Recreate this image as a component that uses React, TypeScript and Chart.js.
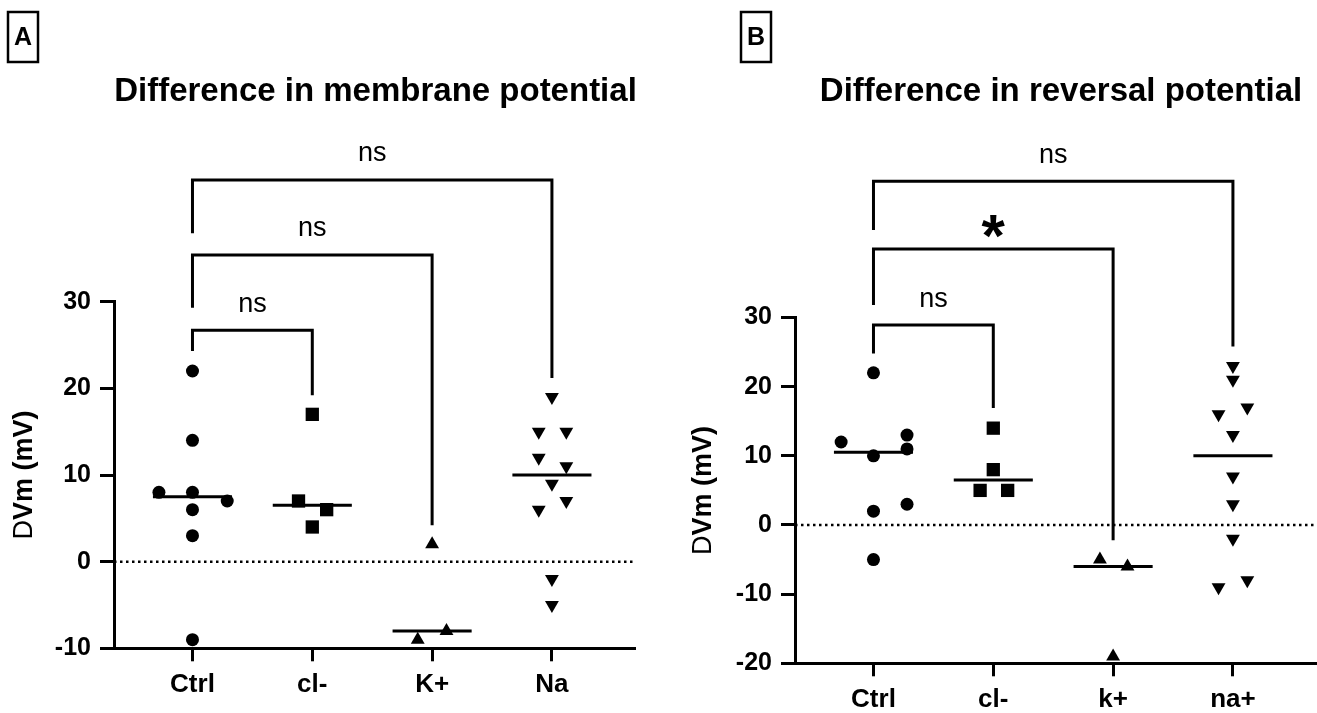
import React, { useEffect, useRef } from "react";
import { Chart, registerables } from "chart.js";

Chart.register(...registerables);

const FONT = '"Liberation Sans", Arial, Helvetica, sans-serif';

// ---------- Panel A data ----------
const titleA = "Difference in membrane potential";
const letterA = "A";
const catsA = ["Ctrl", "cl-", "K+", "Na"];
const ctrlA = [22, 14, 8, 8, 7, 6, 3, -9];
const ctrlAJitter = [0, 0, -0.28, 0, 0.29, 0, 0, 0];
const clA = [17, 7, 6, 4];
const clAJitter = [0, -0.115, 0.12, 0];
const kA = [2, -9, -8];
const kAJitter = [0, -0.12, 0.12];
const naA = [19, 15, 15, 12, 11, 9, 7, 6, -2, -5];
const naAJitter = [0, -0.11, 0.12, -0.11, 0.12, 0, 0.12, -0.11, 0, 0];
const yTicksA = { min: -10, max: 30, step: 10 };
// [from, to, bar level, from-leg end, to-leg end, label]
const bracketsA: [number, number, number, number, number, string][] = [
  [0, 1, 26.7, 24.3, 19.2, "ns"],
  [0, 2, 35.4, 29.3, 4.2, "ns"],
  [0, 3, 44.05, 37.9, 21.2, "ns"],
];

// ---------- Panel B data ----------
const titleB = "Difference in reversal potential";
const letterB = "B";
const catsB = ["Ctrl", "cl-", "k+", "na+"];
const ctrlB = [22, 12, 13, 10, 11, 2, 3, -5];
const ctrlBJitter = [0, -0.27, 0.28, 0, 0.28, 0, 0.28, 0];
const clB = [14, 8, 5, 5];
const clBJitter = [0, 0, -0.11, 0.12];
const kB = [-5, -6, -19];
const kBJitter = [-0.11, 0.12, 0];
const naB = [23, 21, 16, 17, 13, 7, 3, -2, -9, -8];
const naBJitter = [0, 0, -0.12, 0.12, 0, 0, 0, 0, -0.12, 0.12];
const yTicksB = { min: -20, max: 30, step: 10 };
const bracketsB: [number, number, number, number, number, string][] = [
  [0, 1, 28.9, 24.8, 16.9, "ns"],
  [0, 2, 39.9, 31.8, -2.2, "*"],
  [0, 3, 49.7, 42.65, 25.8, "ns"],
];

const yTitlePrefix = "D";
const yTitleRest = "Vm (mV)";
const X_MIN = -0.655;
const X_MAX = 3.685;
const MEDIAN_HALF = 0.33;

type Group = { values: number[]; jitter: number[]; style: string; radius: number; rotation: number };

type PanelCfg = {
  left: number;
  width: number;
  title: string;
  titleCx: number;
  letter: string;
  box: [number, number, number, number];
  cats: string[];
  groups: Group[];
  yTicks: { min: number; max: number; step: number };
  brackets: [number, number, number, number, number, string][];
  padTop: number;
  padRight: number;
  yAxisWidth: number;
  xAxisHeight: number;
  yTitleX: number;
};

function median(arr: number[]) {
  const s = [...arr].sort((a, b) => a - b);
  const n = s.length;
  return n % 2 ? s[(n - 1) / 2] : (s[n / 2 - 1] + s[n / 2]) / 2;
}

function buildConfig(cfg: PanelCfg): any {
  const datasets: any[] = [];
  // zero reference line
  datasets.push({
    data: [
      { x: X_MIN, y: 0 },
      { x: X_MAX, y: 0 },
    ],
    showLine: true,
    borderColor: "#000",
    borderWidth: 2.5,
    borderDash: [2.5, 3.5],
    pointRadius: 0,
    clip: false,
  });
  // brackets
  cfg.brackets.forEach(([a, b, top, la, lb]) => {
    datasets.push({
      data: [
        { x: a, y: la },
        { x: a, y: top },
        { x: b, y: top },
        { x: b, y: lb },
      ],
      showLine: true,
      borderColor: "#000",
      borderWidth: 3,
      borderJoinStyle: "miter",
      borderCapStyle: "butt",
      pointRadius: 0,
      clip: false,
    });
  });
  // medians
  cfg.groups.forEach((g, i) => {
    const m = median(g.values);
    datasets.push({
      data: [
        { x: i - MEDIAN_HALF, y: m },
        { x: i + MEDIAN_HALF, y: m },
      ],
      showLine: true,
      borderColor: "#000",
      borderWidth: 3,
      pointRadius: 0,
      clip: false,
    });
  });
  // points
  cfg.groups.forEach((g, i) => {
    datasets.push({
      data: g.values.map((v, k) => ({ x: i + g.jitter[k], y: v })),
      showLine: false,
      pointStyle: g.style,
      pointRadius: g.radius,
      pointRotation: g.rotation,
      pointBackgroundColor: "#000",
      pointBorderColor: "#000",
      pointBorderWidth: 0,
      clip: false,
    });
  });

  const overlay = {
    id: "overlay",
    afterDraw(chart: any) {
      const { ctx, chartArea } = chart;
      const xs = chart.scales.x;
      const ys = chart.scales.y;
      ctx.save();
      ctx.fillStyle = "#000";
      ctx.strokeStyle = "#000";
      // panel letter box
      const [bx, by, bw, bh] = cfg.box;
      ctx.lineWidth = 2.5;
      ctx.strokeRect(bx, by, bw, bh);
      ctx.font = `bold 25px ${FONT}`;
      ctx.textAlign = "center";
      ctx.textBaseline = "middle";
      ctx.fillText(cfg.letter, bx + bw / 2, by + bh / 2 + 1);
      // title
      ctx.font = `bold 33px ${FONT}`;
      ctx.textBaseline = "alphabetic";
      ctx.fillText(cfg.title, cfg.titleCx, 101);
      // y axis title (mixed weight)
      const cy = (chartArea.top + chartArea.bottom) / 2;
      ctx.translate(cfg.yTitleX, cy);
      ctx.rotate(-Math.PI / 2);
      const f1 = `27px ${FONT}`;
      const f2 = `bold 27px ${FONT}`;
      ctx.font = f1;
      const w1 = ctx.measureText(yTitlePrefix).width;
      ctx.font = f2;
      const w2 = ctx.measureText(yTitleRest).width;
      const sx = -(w1 + w2) / 2;
      ctx.textAlign = "left";
      ctx.textBaseline = "middle";
      ctx.font = f1;
      ctx.fillText(yTitlePrefix, sx, 0);
      ctx.font = f2;
      ctx.fillText(yTitleRest, sx + w1, 0);
      ctx.setTransform(1, 0, 0, 1, 0, 0);
      // bracket labels
      cfg.brackets.forEach(([a, b, top, , , label]) => {
        const px = (xs.getPixelForValue(a) + xs.getPixelForValue(b)) / 2;
        const py = ys.getPixelForValue(top);
        ctx.textAlign = "center";
        if (label === "*") {
          ctx.font = `bold 60px ${FONT}`;
          const m = ctx.measureText(label);
          const cyl = py - 22.5;
          const base = cyl + (m.actualBoundingBoxAscent - m.actualBoundingBoxDescent) / 2;
          ctx.textBaseline = "alphabetic";
          ctx.fillText(label, px, base);
        } else {
          ctx.font = `27px ${FONT}`;
          ctx.textBaseline = "alphabetic";
          ctx.fillText(label, px, py - 18.5);
        }
      });
      ctx.restore();
    },
  };

  return {
    type: "scatter",
    data: { datasets },
    plugins: [overlay],
    options: {
      animation: false,
      responsive: false,
      maintainAspectRatio: false,
      devicePixelRatio: 1,
      events: [],
      layout: {
        autoPadding: false,
        padding: { top: cfg.padTop, right: cfg.padRight, left: 0, bottom: 0 },
      },
      plugins: { legend: { display: false }, tooltip: { enabled: false }, title: { display: false } },
      scales: {
        x: {
          type: "linear",
          min: X_MIN,
          max: X_MAX,
          afterBuildTicks: (s: any) => {
            s.ticks = cfg.cats.map((_, i) => ({ value: i }));
          },
          afterFit: (s: any) => {
            s.height = cfg.xAxisHeight;
            s.paddingLeft = 0;
            s.paddingRight = 0;
          },
          ticks: {
            callback: (v: any) => cfg.cats[Math.round(Number(v))] ?? "",
            color: "#000",
            font: { family: FONT, size: 26, weight: "bold" },
            padding: 8,
            maxRotation: 0,
            autoSkip: false,
          },
          grid: { drawOnChartArea: false, drawTicks: true, tickLength: 13, lineWidth: 3, color: "#000" },
          border: { display: true, color: "#000", width: 3 },
        },
        y: {
          type: "linear",
          min: cfg.yTicks.min,
          max: cfg.yTicks.max,
          afterFit: (s: any) => {
            s.width = cfg.yAxisWidth;
            s.paddingTop = 0;
            s.paddingBottom = 0;
          },
          ticks: {
            stepSize: cfg.yTicks.step,
            color: "#000",
            font: { family: FONT, size: 25, weight: "bold" },
            padding: 9,
          },
          grid: { drawOnChartArea: false, drawTicks: true, tickLength: 14, lineWidth: 3, color: "#000" },
          border: { display: true, color: "#000", width: 3 },
        },
      },
    },
  };
}

const panelA: PanelCfg = {
  left: 0,
  width: 660,
  title: titleA,
  titleCx: 375.5,
  letter: letterA,
  box: [8, 12, 30, 50],
  cats: catsA,
  groups: [
    { values: ctrlA, jitter: ctrlAJitter, style: "circle", radius: 6.5, rotation: 0 },
    { values: clA, jitter: clAJitter, style: "rect", radius: 9.4, rotation: 0 },
    { values: kA, jitter: kAJitter, style: "triangle", radius: 8, rotation: 0 },
    { values: naA, jitter: naAJitter, style: "triangle", radius: 8, rotation: 180 },
  ],
  yTicks: yTicksA,
  brackets: bracketsA,
  padTop: 301.7,
  padRight: 26,
  yAxisWidth: 114,
  xAxisHeight: 64.7,
  yTitleX: 25,
};

const panelB: PanelCfg = {
  left: 660,
  width: 657,
  title: titleB,
  titleCx: 401,
  letter: letterB,
  box: [81, 12, 30, 50],
  cats: catsB,
  groups: [
    { values: ctrlB, jitter: ctrlBJitter, style: "circle", radius: 6.5, rotation: 0 },
    { values: clB, jitter: clBJitter, style: "rect", radius: 9.4, rotation: 0 },
    { values: kB, jitter: kBJitter, style: "triangle", radius: 8, rotation: 0 },
    { values: naB, jitter: naBJitter, style: "triangle", radius: 8, rotation: 180 },
  ],
  yTicks: yTicksB,
  brackets: bracketsB,
  padTop: 317.5,
  padRight: 2,
  yAxisWidth: 135,
  xAxisHeight: 49.7,
  yTitleX: 44,
};

function Panel({ cfg }: { cfg: PanelCfg }) {
  const ref = useRef<HTMLCanvasElement>(null);
  useEffect(() => {
    if (!ref.current) return;
    const chart = new Chart(ref.current, buildConfig(cfg));
    return () => chart.destroy();
  }, [cfg]);
  return (
    <div style={{ position: "absolute", left: cfg.left, top: 0, width: cfg.width, height: 713 }}>
      <canvas
        ref={ref}
        width={cfg.width}
        height={713}
        style={{ display: "block", width: cfg.width, height: 713 }}
      />
    </div>
  );
}

export default function App() {
  return (
    <div
      style={{
        position: "fixed",
        left: 0,
        top: 0,
        width: 1317,
        height: 713,
        background: "#fff",
        overflow: "hidden",
      }}
    >
      <Panel cfg={panelA} />
      <Panel cfg={panelB} />
    </div>
  );
}
